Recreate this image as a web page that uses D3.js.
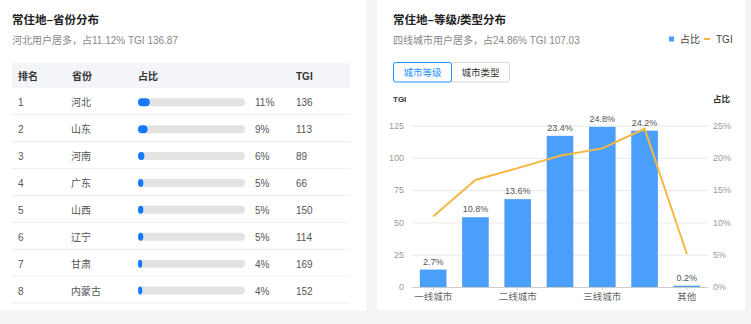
<!DOCTYPE html>
<html lang="zh">
<head>
<meta charset="UTF-8">
<title>常住地分布</title>
<script src="https://d3js.org/d3.v7.min.js"></script>
<style>
  body { margin: 0; background: #f5f5f5; font-family: "Liberation Sans", "Noto Sans CJK SC", sans-serif; }
  svg text { font-family: "Liberation Sans", "Noto Sans CJK SC", sans-serif; }
</style>
</head>
<body>
<div id="chart"></div>
<script>
  // 左侧：省份分布
  const provinces = ["河北", "山东", "河南", "广东", "山西", "辽宁", "甘肃", "内蒙古"];
  const provinceShare = [11, 9, 6, 5, 5, 5, 4, 4];
  const provinceTgi = [136, 113, 89, 66, 150, 114, 169, 152];
  const tableHeaders = ["排名", "省份", "占比", "TGI"];

  // 右侧：城市等级分布
  const cityLevels = ["一线城市", "新一线城市", "二线城市", "三线城市", "四线城市", "五线城市", "其他"];
  const tickLabels = ["一线城市", "", "二线城市", "", "三线城市", "", "其他"];
  const levelShare = [2.7, 10.8, 13.6, 23.4, 24.8, 24.2, 0.2];
  const levelTgi = [54.5, 82.8, 92, 101.6, 107.3, 122.5, 25.5];
  const tgiTicks = [0, 25, 50, 75, 100, 125];
  const shareTicks = [0, 5, 10, 15, 20, 25];

  const W = 751, H = 324;
  const svg = d3.select("#chart").append("svg")
    .attr("width", W).attr("height", H);

  svg.append("rect").attr("width", W).attr("height", H).attr("fill", "#f5f5f5");

  // ---------- 左卡片 ----------
  const left = svg.append("g");
  left.append("rect").attr("x", 0).attr("y", 0).attr("width", 366).attr("height", 310).attr("fill", "#fff");

  left.append("text").attr("x", 12).attr("y", 24)
    .style("font-size", "11.5px").style("font-weight", "bold").attr("fill", "#222")
    .text("常住地–省份分布");
  left.append("text").attr("x", 12).attr("y", 44)
    .style("font-size", "10px").attr("fill", "#888")
    .text("河北用户居多，占11.12% TGI 136.87");

  left.append("rect").attr("x", 12).attr("y", 63).attr("width", 338).attr("height", 25.3).attr("fill", "#f3f5f8");

  const colX = [18, 72, 138, 296];
  left.selectAll(".hdr").data(tableHeaders).enter().append("text")
    .attr("x", (d, i) => colX[i]).attr("y", 76).attr("dy", "0.35em")
    .style("font-size", "10px").style("font-weight", "bold").attr("fill", "#333")
    .text(d => d);

  const rowY = d3.scaleBand().domain(d3.range(provinces.length)).range([88.3, 88.3 + 26.9 * provinces.length]);
  const barX = d3.scaleLinear().domain([0, 100]).range([138, 245]);

  const rows = left.selectAll(".row").data(provinces).enter().append("g")
    .attr("transform", (d, i) => `translate(0,${rowY(i)})`);
  const rh = rowY.bandwidth();
  rows.append("line").attr("x1", 12).attr("x2", 350).attr("y1", rh - 0.5).attr("y2", rh - 0.5)
    .attr("stroke", "#eeeeee");
  rows.append("text").attr("x", 18).attr("y", rh / 2 + 1).attr("dy", "0.35em")
    .style("font-size", "10px").attr("fill", "#555").text((d, i) => i + 1);
  rows.append("text").attr("x", 71).attr("y", rh / 2 + 1).attr("dy", "0.35em")
    .style("font-size", "10px").attr("fill", "#555").text(d => d);
  rows.append("rect").attr("x", barX(0)).attr("y", rh / 2 - 3.5).attr("width", barX(100) - barX(0))
    .attr("height", 8).attr("rx", 4).attr("fill", "#e3e3e3");
  rows.append("rect").attr("x", barX(0)).attr("y", rh / 2 - 3.5)
    .attr("width", (d, i) => Math.max(barX(provinceShare[i]) - barX(0), 4))
    .attr("height", 8).attr("rx", 4).attr("fill", "#1677ff");
  rows.append("text").attr("x", 255).attr("y", rh / 2 + 1).attr("dy", "0.35em")
    .style("font-size", "10px").attr("fill", "#555").text((d, i) => provinceShare[i] + "%");
  rows.append("text").attr("x", 296).attr("y", rh / 2 + 1).attr("dy", "0.35em")
    .style("font-size", "10px").attr("fill", "#555").text((d, i) => provinceTgi[i]);

  // ---------- 右卡片 ----------
  const right = svg.append("g");
  right.append("rect").attr("x", 377).attr("y", 0).attr("width", 368).attr("height", 310).attr("fill", "#fff");

  right.append("text").attr("x", 393).attr("y", 24)
    .style("font-size", "11.5px").style("font-weight", "bold").attr("fill", "#222")
    .text("常住地–等级/类型分布");
  right.append("text").attr("x", 393).attr("y", 44)
    .style("font-size", "10px").attr("fill", "#888")
    .text("四线城市用户居多，占24.86% TGI 107.03");

  // 图例
  right.append("rect").attr("x", 669).attr("y", 36.5).attr("width", 5).attr("height", 5).attr("fill", "#4a9ffa");
  right.append("text").attr("x", 680).attr("y", 39).attr("dy", "0.35em")
    .style("font-size", "10px").attr("fill", "#444").text("占比");
  right.append("line").attr("x1", 704).attr("x2", 710).attr("y1", 39).attr("y2", 39)
    .attr("stroke", "#f7b842").attr("stroke-width", 2);
  right.append("text").attr("x", 716).attr("y", 39).attr("dy", "0.35em")
    .style("font-size", "10px").attr("fill", "#444").text("TGI");

  // 标签页
  right.append("rect").attr("x", 451.5).attr("y", 62.5).attr("width", 58).attr("height", 19.5).attr("rx", 2)
    .attr("fill", "#fff").attr("stroke", "#d9d9d9");
  right.append("rect").attr("x", 393.5).attr("y", 62.5).attr("width", 58).attr("height", 19.5).attr("rx", 2)
    .attr("fill", "#fff").attr("stroke", "#1890ff");
  right.append("text").attr("x", 422.5).attr("y", 72.5).attr("dy", "0.35em").attr("text-anchor", "middle")
    .style("font-size", "9.5px").attr("fill", "#1890ff").text("城市等级");
  right.append("text").attr("x", 480.5).attr("y", 72.5).attr("dy", "0.35em").attr("text-anchor", "middle")
    .style("font-size", "9.5px").attr("fill", "#333").text("城市类型");

  right.append("text").attr("x", 393).attr("y", 99.5).attr("dy", "0.35em")
    .style("font-size", "8px").style("font-weight", "bold").attr("fill", "#333").text("TGI");
  right.append("text").attr("x", 730).attr("y", 99.5).attr("dy", "0.35em").attr("text-anchor", "end")
    .style("font-size", "8.5px").style("font-weight", "bold").attr("fill", "#333").text("占比");

  const x = d3.scaleBand().domain(cityLevels).range([412, 708]).paddingInner(0.37).paddingOuter(0.185);
  const yL = d3.scaleLinear().domain([0, 125]).range([287, 125.5]);
  const yR = d3.scaleLinear().domain([0, 25]).range([287, 125.5]);

  // 网格线 + 左轴
  const gL = right.append("g").attr("transform", "translate(412,0)")
    .call(d3.axisLeft(yL).tickValues(tgiTicks).tickSize(-296).tickPadding(8));
  gL.select(".domain").remove();
  gL.selectAll(".tick line").attr("stroke", "#e8e8e8");
  gL.selectAll(".tick text").attr("fill", "#999").style("font-size", "9px");

  const gR = right.append("g").attr("transform", "translate(708,0)")
    .call(d3.axisRight(yR).tickValues(shareTicks).tickSize(0).tickPadding(5).tickFormat(d => d + "%"));
  gR.select(".domain").remove();
  gR.selectAll(".tick text").attr("fill", "#999").style("font-size", "9px");

  // 柱
  right.selectAll(".bar").data(cityLevels).enter().append("rect")
    .attr("x", d => x(d)).attr("width", x.bandwidth())
    .attr("y", (d, i) => yR(levelShare[i]))
    .attr("height", (d, i) => yR(0) - yR(levelShare[i]))
    .attr("fill", "#4a9ffa");

  right.selectAll(".blabel").data(cityLevels).enter().append("text")
    .attr("x", d => x(d) + x.bandwidth() / 2)
    .attr("y", (d, i) => yR(levelShare[i]) - 5)
    .attr("text-anchor", "middle")
    .style("font-size", "9px").attr("fill", "#555")
    .text((d, i) => levelShare[i] + "%");

  // x 轴
  const gX = right.append("g").attr("transform", "translate(0,287)")
    .call(d3.axisBottom(x).tickSize(3).tickPadding(3).tickFormat((d, i) => tickLabels[i]));
  gX.select(".domain").attr("stroke", "#cccccc").attr("d", "M412,0.5H708");
  gX.selectAll(".tick line").attr("stroke", "#cccccc")
    .attr("display", (d, i) => tickLabels[i] ? null : "none");
  gX.selectAll(".tick text").attr("fill", "#666").style("font-size", "9.5px");

  // TGI 折线
  right.append("path")
    .datum(cityLevels)
    .attr("fill", "none").attr("stroke", "#f7b842").attr("stroke-width", 2)
    .attr("d", d3.line()
      .x(d => x(d) + x.bandwidth() / 2)
      .y((d, i) => yL(levelTgi[i])));
</script>
</body>
</html>
